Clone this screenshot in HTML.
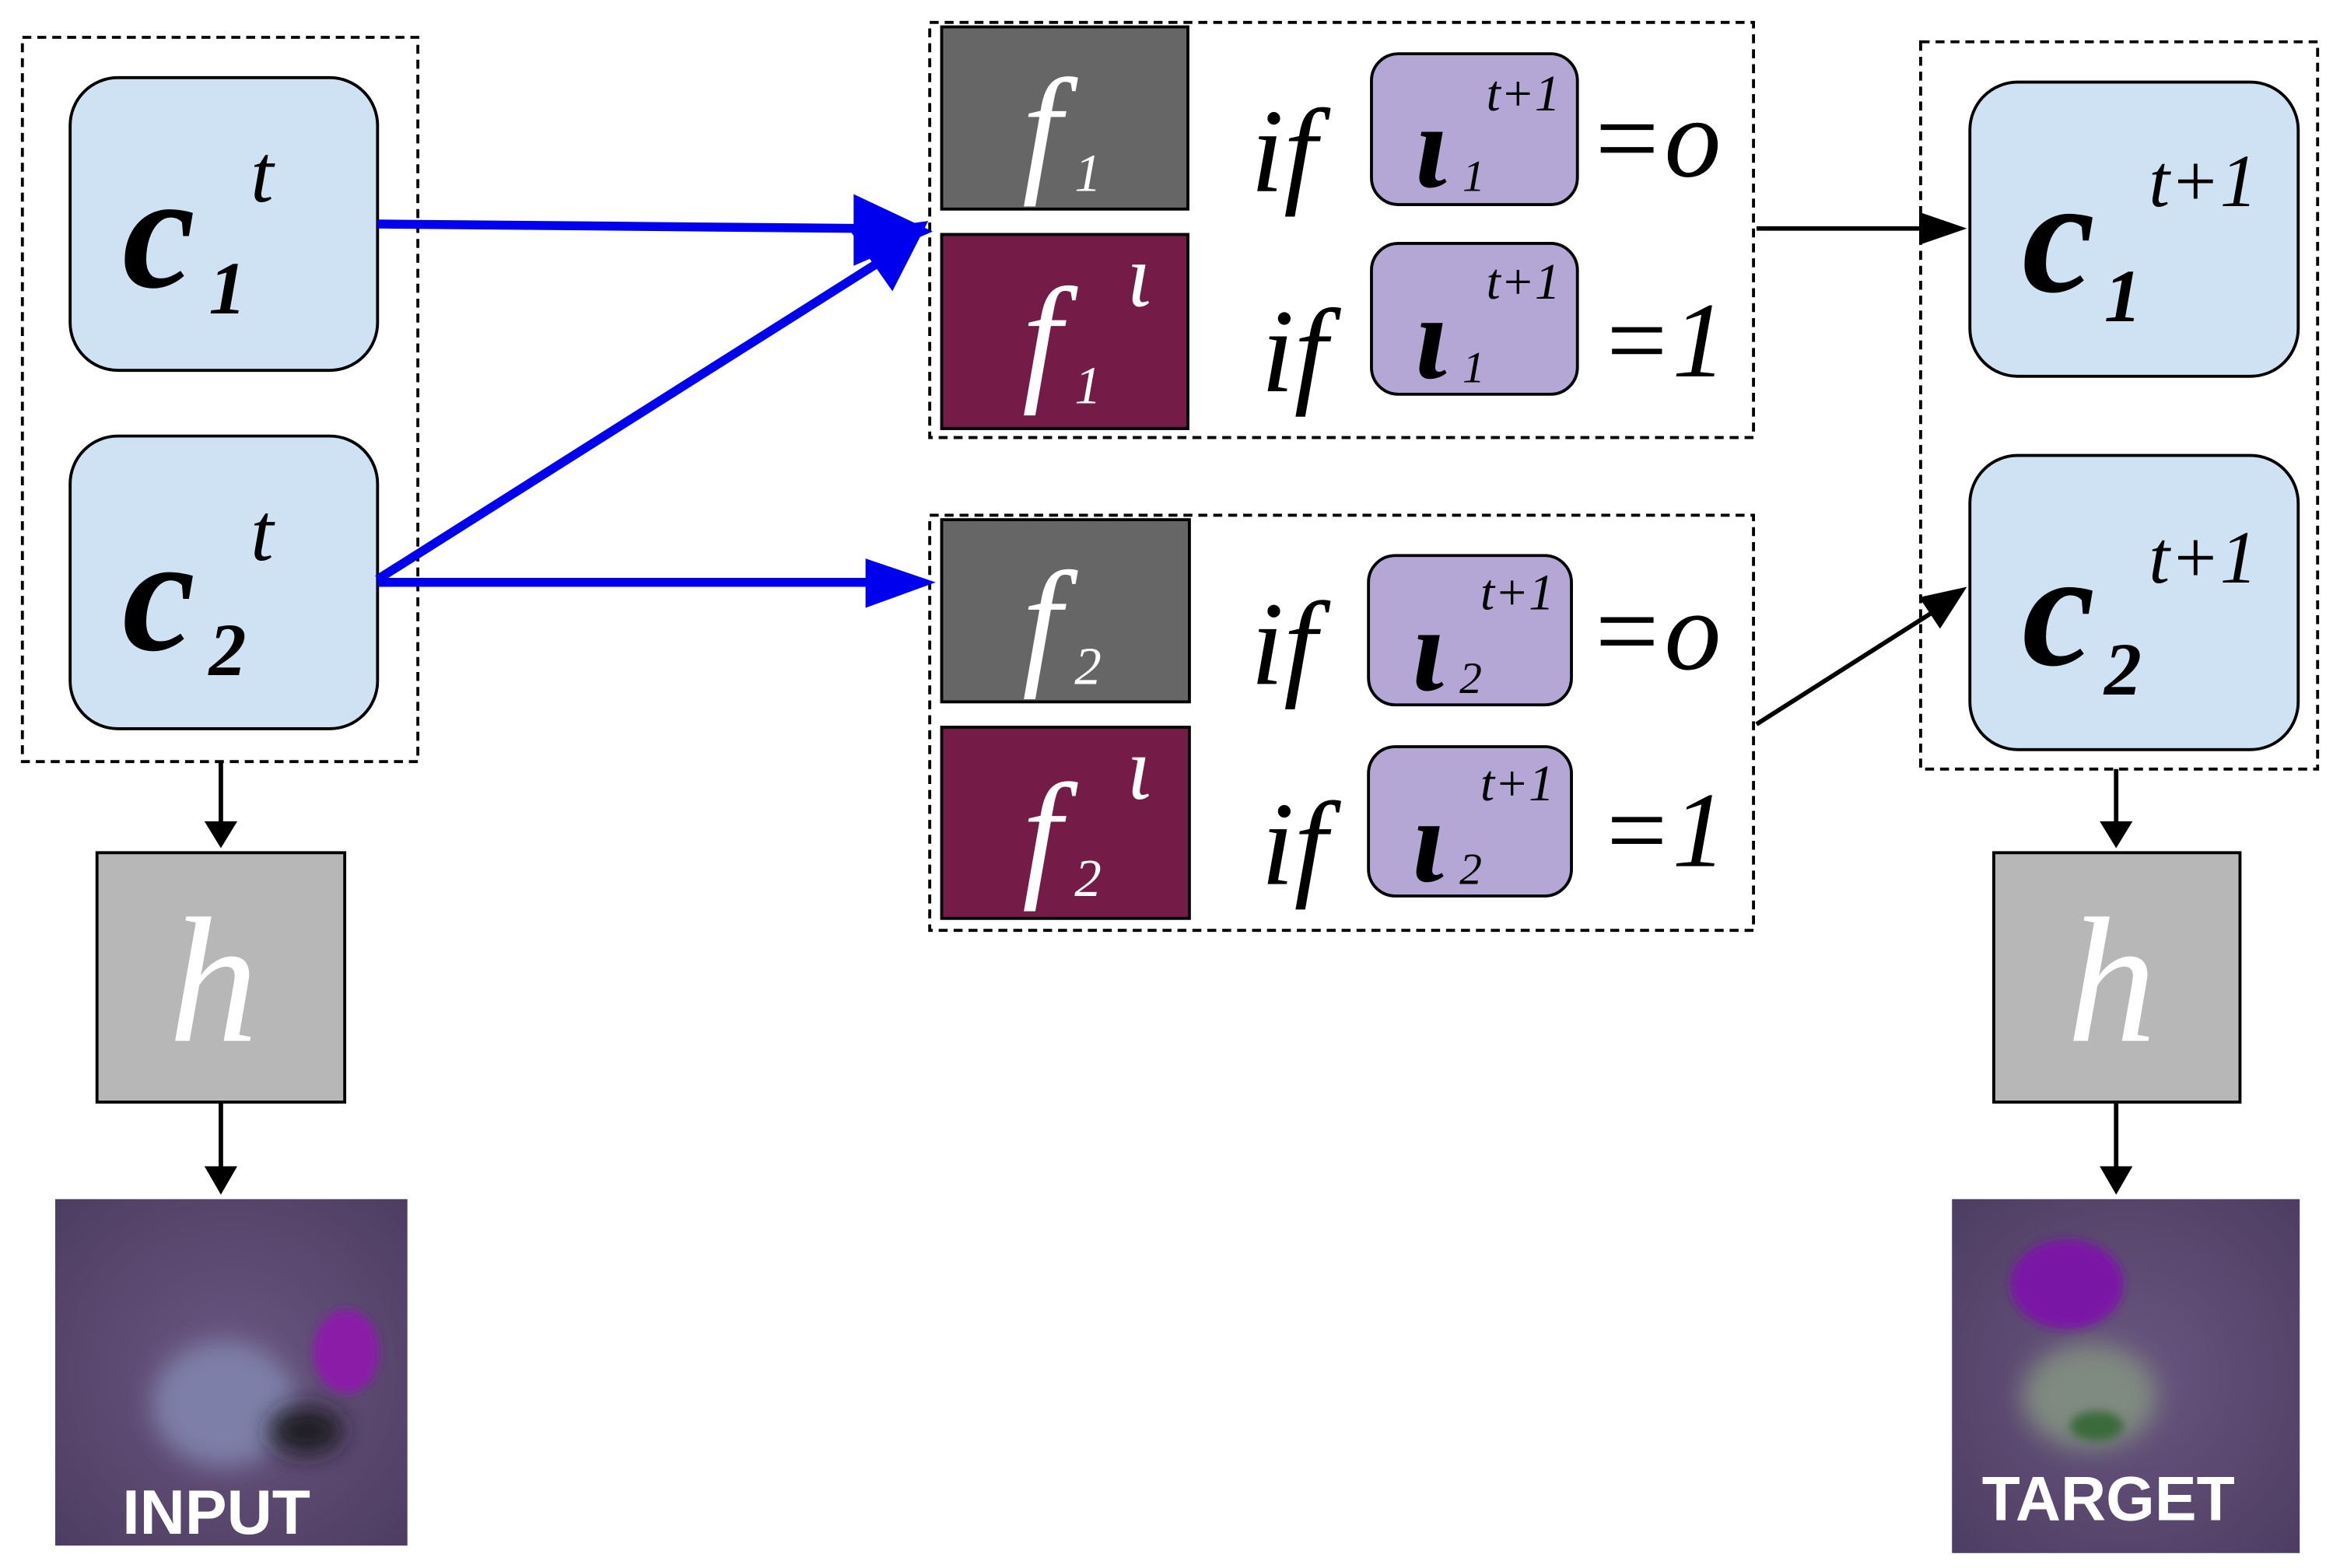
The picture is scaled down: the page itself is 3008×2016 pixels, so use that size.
<!DOCTYPE html>
<html><head><meta charset="utf-8"><style>
html,body{margin:0;padding:0;background:#fff;}
svg{display:block;}
text{font-family:"Liberation Serif",serif;font-style:italic;}
</style></head><body>
<svg width="3008" height="2016" viewBox="0 0 1568 1050" preserveAspectRatio="none" xmlns="http://www.w3.org/2000/svg">
<defs>
<filter id="b8" x="-100%" y="-100%" width="300%" height="300%"><feGaussianBlur stdDeviation="8"/></filter>
<filter id="b3" x="-100%" y="-100%" width="300%" height="300%"><feGaussianBlur stdDeviation="3"/></filter>
<radialGradient id="bg1" cx="0.5" cy="0.5" r="0.7"><stop offset="0" stop-color="#6a5680"/><stop offset="1" stop-color="#4e3d62"/></radialGradient>
</defs>
<g fill="none" stroke="#000" stroke-width="2" stroke-dasharray="6,4">
<rect x="15" y="25" width="265" height="485"/>
<rect x="623" y="15" width="552" height="278"/>
<rect x="623" y="345" width="552" height="278"/>
<rect x="1287" y="28" width="266" height="487"/>
</g>
<g stroke="#000" stroke-width="2" fill="#cfe2f3">
<rect x="47" y="52" width="206" height="196" rx="32"/>
<rect x="47" y="292" width="206" height="196" rx="32"/>
<rect x="1320" y="55" width="220" height="197" rx="32"/>
<rect x="1320" y="305" width="220" height="197" rx="32"/>
</g>
<g font-weight="bold" fill="#000">
<text x="82" y="192" font-size="110">c</text><text x="140" y="210" font-size="50">1</text><text x="168" y="135" font-size="55" font-weight="normal">t</text>
<text x="82" y="435" font-size="110">c</text><text x="140" y="452" font-size="50">2</text><text x="168" y="375" font-size="55" font-weight="normal">t</text>
<text x="1355" y="195" font-size="110">c</text><text x="1410" y="215" font-size="50">1</text><text x="1440" y="138" font-size="50" font-weight="normal">t+1</text>
<text x="1355" y="445" font-size="110">c</text><text x="1410" y="465" font-size="50">2</text><text x="1440" y="390" font-size="50" font-weight="normal">t+1</text>
</g>
<g stroke="#000" stroke-width="2">
<rect x="631" y="18" width="165" height="122" fill="#666666"/>
<rect x="631" y="157" width="165" height="130" fill="#741b47"/>
<rect x="631" y="348" width="166" height="122" fill="#666666"/>
<rect x="631" y="487" width="166" height="128" fill="#741b47"/>
</g>
<g fill="#fff">
<text x="685" y="118" font-size="95">f</text><text x="720" y="128" font-size="36">1</text>
<text x="685" y="258" font-size="95">f</text><text x="720" y="270" font-size="36">1</text><text x="755" y="205" font-size="60">ι</text>
<text x="685" y="448" font-size="95">f</text><text x="720" y="458" font-size="36">2</text>
<text x="685" y="590" font-size="95">f</text><text x="720" y="600" font-size="36">2</text><text x="755" y="535" font-size="60">ι</text>
</g>
<g stroke="#000" stroke-width="2" fill="#b4a7d6">
<rect x="919" y="36" width="138" height="101" rx="18"/>
<rect x="919" y="163" width="138" height="101" rx="18"/>
<rect x="917" y="372" width="136" height="100" rx="18"/>
<rect x="917" y="500" width="136" height="100" rx="18"/>
</g>
<g fill="#000">
<text x="838" y="128" font-size="80">if</text>
<text x="845" y="262" font-size="80">if</text>
<text x="838" y="458" font-size="80">if</text>
<text x="845" y="592" font-size="80">if</text>
<g font-weight="bold"><text x="948" y="125" font-size="80">ι</text><text x="948" y="253" font-size="80">ι</text><text x="946" y="462" font-size="80">ι</text><text x="946" y="590" font-size="80">ι</text></g>
<text x="980" y="128" font-size="30">1</text><text x="980" y="256" font-size="30">1</text><text x="978" y="464" font-size="30">2</text><text x="978" y="592" font-size="30">2</text>
<text x="996" y="74" font-size="34">t+1</text><text x="996" y="200" font-size="34">t+1</text><text x="992" y="408" font-size="34">t+1</text><text x="992" y="536" font-size="34">t+1</text>
<text x="1064" y="118" font-size="76">=o</text>
<text x="1072" y="252" font-size="72">=1</text>
<text x="1064" y="448" font-size="76">=o</text>
<text x="1072" y="580" font-size="72">=1</text>
</g>
<g stroke="#000" stroke-width="2" fill="#b7b7b7">
<rect x="65" y="571" width="166" height="167"/>
<rect x="1336" y="571" width="165" height="167"/>
</g>
<text x="113" y="697" font-size="120" fill="#fff">h</text>
<text x="1385" y="697" font-size="120" fill="#fff">h</text>
<g stroke="#000" stroke-width="3">
<line x1="148" y1="510" x2="148" y2="552"/><line x1="148" y1="738" x2="148" y2="783"/>
<line x1="1418" y1="515" x2="1418" y2="552"/><line x1="1418" y1="738" x2="1418" y2="783"/>
<line x1="1177" y1="153" x2="1290" y2="153"/><line x1="1177" y1="485" x2="1295" y2="410"/>
</g>
<g fill="#000">
<polygon points="137,550 159,550 148,568"/><polygon points="137,781 159,781 148,800"/>
<polygon points="1407,550 1429,550 1418,568"/><polygon points="1407,781 1429,781 1418,800"/>
<polygon points="1286,142 1318,153 1286,164"/>
<polygon points="1286,400 1318,393 1300,421"/>
</g>
<g stroke="#0000ee" stroke-width="6" fill="none">
<line x1="253" y1="150" x2="580" y2="153"/>
<line x1="253" y1="388" x2="590" y2="175"/>
<line x1="253" y1="390" x2="590" y2="390"/>
</g>
<g fill="#0000ee">
<polygon points="572,130 625,155 572,178"/>
<polygon points="570,155 622,148 598,195"/>
<polygon points="580,374 627,390 580,407"/>
</g>
<rect x="37" y="803" width="236" height="232" fill="url(#bg1)"/>
<ellipse cx="150" cy="940" rx="48" ry="42" fill="#7d7fa8" filter="url(#b8)"/>
<ellipse cx="205" cy="958" rx="25" ry="16" fill="#1e1a24" filter="url(#b8)"/>
<ellipse cx="232" cy="905" rx="22" ry="28" fill="#8a1aa8" filter="url(#b3)"/>
<text x="82" y="1027" font-size="42" font-weight="bold" fill="#fff" style="font-family:'Liberation Sans',sans-serif;font-style:normal">INPUT</text>
<rect x="1308" y="803" width="233" height="237" fill="url(#bg1)"/>
<ellipse cx="1400" cy="935" rx="45" ry="35" fill="#7f8a80" filter="url(#b8)"/>
<ellipse cx="1405" cy="955" rx="18" ry="10" fill="#3a6a3a" filter="url(#b3)"/>
<ellipse cx="1385" cy="860" rx="38" ry="30" fill="#7a18a6" filter="url(#b3)"/>
<text x="1328" y="1018" font-size="42" font-weight="bold" fill="#fff" style="font-family:'Liberation Sans',sans-serif;font-style:normal">TARGET</text>
</svg>
</body></html>
